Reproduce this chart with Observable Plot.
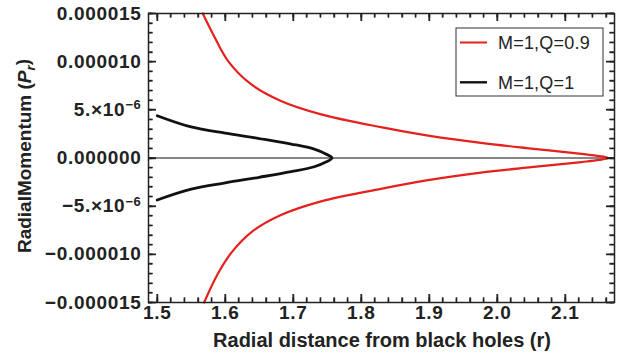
<!DOCTYPE html>
<html><head><meta charset="utf-8">
<script src="https://cdn.jsdelivr.net/npm/d3@7"></script>
<script src="https://cdn.jsdelivr.net/npm/@observablehq/plot@0.6"></script>
<style>
body{margin:0;background:#fff;}
#chart{position:relative;width:618px;height:355px;}
svg{font-family:"Liberation Sans",Arial,sans-serif;}
</style>
</head><body><div id="chart"></div>
<script>
// ---- data ----
const xTicks = [1.5, 1.6, 1.7, 1.8, 1.9, 2.0, 2.1];
const xTickLabels = ["1.5", "1.6", "1.7", "1.8", "1.9", "2.0", "2.1"];
const yTicks = [-1.5e-5, -1e-5, -5e-6, 0, 5e-6, 1e-5, 1.5e-5];
const yTickLabels = ["\u22120.000015", "\u22120.000010", "\u22125.\u00d710^\u22126", "0.000000", "5.\u00d710^\u22126", "0.000010", "0.000015"];
const seriesNames = ["M=1,Q=0.9", "M=1,Q=1"];
const seriesColors = ["#e4211c", "#111111"];
const xLabel = "Radial distance from black holes (r)";
const yLabel = "RadialMomentum";

// M=1, Q=0.9 (red): upper branch, left to tip
const redUpperR = [1.567, 1.582, 1.604, 1.638, 1.682, 1.741, 1.829, 1.903, 1.976, 2.050, 2.124, 2.150, 2.163];
const redUpperP = [15.0e-6, 12.88e-6, 10.09e-6, 7.66e-6, 5.92e-6, 4.53e-6, 3.20e-6, 2.27e-6, 1.57e-6, 0.98e-6, 0.42e-6, 0.20e-6, 0];
// lower branch, left to tip
const redLowerR = [1.569, 1.589, 1.610, 1.640, 1.682, 1.741, 1.829, 1.903, 1.976, 2.050, 2.124, 2.150, 2.163];
const redLowerP = [-15.0e-6, -12.04e-6, -9.75e-6, -7.62e-6, -5.92e-6, -4.50e-6, -3.20e-6, -2.25e-6, -1.52e-6, -0.95e-6, -0.42e-6, -0.20e-6, 0];

// M=1, Q=1 (black)
const blackUpperR = [1.500, 1.550, 1.600, 1.650, 1.697, 1.731, 1.748, 1.757];
const blackUpperP = [4.39e-6, 3.22e-6, 2.58e-6, 2.02e-6, 1.45e-6, 0.93e-6, 0.42e-6, 0];
const blackLowerR = [1.500, 1.550, 1.600, 1.650, 1.697, 1.731, 1.748, 1.757];
const blackLowerP = [-4.36e-6, -3.24e-6, -2.58e-6, -2.0e-6, -1.42e-6, -0.91e-6, -0.42e-6, 0];

// ---- build tables ----
function branchTable(uR, uP, lR, lP) {
  const up = uR.map((r, i) => ({r, p: uP[i]}));
  const lo = lR.map((r, i) => ({r, p: lP[i]})).reverse().slice(1);
  return up.concat(lo);
}
const redData = branchTable(redUpperR, redUpperP, redLowerR, redLowerP);
const blackData = branchTable(blackUpperR, blackUpperP, blackLowerR, blackLowerP);

const xMinor = d3.range(0, 34).map(i => +(1.5 + i * 0.02).toFixed(2));
const yMinor = d3.range(-15, 16).map(i => i * 1e-6);

const W = 618, H = 355, ML = 148, MR = 4, MT = 13, MB = 53;
const FW = W - ML - MR, FH = H - MT - MB;
const MAJ = 8, MIN = 4.5;

const svg = Plot.plot({
  width: W, height: H,
  marginLeft: ML, marginRight: MR, marginTop: MT, marginBottom: MB,
  x: {domain: [1.4872, 2.1725], axis: null},
  y: {domain: [-1.5e-5, 1.5e-5], axis: null},
  marks: [
    Plot.ruleY([0], {stroke: "#111", strokeWidth: 1}),
    Plot.line(redData, {x: "r", y: "p", stroke: seriesColors[0], strokeWidth: 2.2, curve: "catmull-rom"}),
    Plot.line(blackData, {x: "r", y: "p", stroke: seriesColors[1], strokeWidth: 2.8, curve: "catmull-rom"}),
    Plot.axisX(xTicks, {anchor: "bottom", tickSize: 0, tickPadding: 3, label: null,
      tickFormat: d => xTickLabels[xTicks.indexOf(d)], fontSize: 19, fontWeight: "bold", fill: "#222"}),
    Plot.axisY(yTicks, {anchor: "left", tickSize: 0, tickPadding: 7, label: null,
      tickFormat: d => yTickLabels[yTicks.indexOf(d)], fontSize: 19, fontWeight: "bold", fill: "#222"}),
    Plot.frame({stroke: "#222", strokeWidth: 1.5}),
    Plot.ruleX(xTicks, {stroke: "#222", strokeWidth: 1.4, insetTop: FH - MAJ}),
    Plot.ruleX(xMinor, {stroke: "#222", strokeWidth: 1.4, insetTop: FH - MIN}),
    Plot.ruleX(xTicks, {stroke: "#222", strokeWidth: 1.4, insetBottom: FH - MAJ}),
    Plot.ruleX(xMinor, {stroke: "#222", strokeWidth: 1.4, insetBottom: FH - MIN}),
    Plot.ruleY(yTicks, {stroke: "#222", strokeWidth: 1.4, insetRight: FW - MAJ}),
    Plot.ruleY(yMinor, {stroke: "#222", strokeWidth: 1.4, insetRight: FW - MIN}),
    Plot.ruleY(yTicks, {stroke: "#222", strokeWidth: 1.4, insetLeft: FW - MAJ}),
    Plot.ruleY(yMinor, {stroke: "#222", strokeWidth: 1.4, insetLeft: FW - MIN})
  ]
});
document.getElementById("chart").appendChild(svg);

const s = d3.select(svg);
// inward frame ticks placed through Plot's own scales
const sx = svg.scale("x"), sy = svg.scale("y");
const x0 = ML, x1 = W - MR, y0 = MT, y1 = H - MB;
const tg = s.append("g").attr("stroke", "#222").attr("stroke-width", 1.4);
[[xTicks, MAJ], [xMinor, MIN]].forEach(([arr, len]) => arr.forEach(v => {
  const px = Math.round(sx.apply(v)) + 0.5;
  tg.append("line").attr("x1", px).attr("x2", px).attr("y1", y1).attr("y2", y1 - len);
  tg.append("line").attr("x1", px).attr("x2", px).attr("y1", y0).attr("y2", y0 + len);
}));
[[yTicks, MAJ], [yMinor, MIN]].forEach(([arr, len]) => arr.forEach(v => {
  const py = Math.round(sy.apply(v)) + 0.5;
  tg.append("line").attr("y1", py).attr("y2", py).attr("x1", x0).attr("x2", x0 + len);
  tg.append("line").attr("y1", py).attr("y2", py).attr("x1", x1).attr("x2", x1 - len);
}));

s.selectAll("text").style("letter-spacing", "0.7px");
// superscripts for exponent labels
s.selectAll("text").each(function() {
  const t = this.textContent;
  if (t.includes("^")) {
    const [b, e] = t.split("^");
    const el = d3.select(this);
    el.text(b);
    el.append("tspan").attr("dy", "-0.5em").attr("font-size", "0.68em").text(e);
  }
});

// axis titles
s.append("text").attr("x", 382).attr("y", 346.5).attr("text-anchor", "middle")
  .attr("font-size", 20).attr("font-weight", "bold").attr("fill", "#222").text(xLabel);
const yl = s.append("text").attr("transform", "translate(31,156) rotate(-90)").attr("text-anchor", "middle")
  .attr("font-size", 19).attr("font-weight", "bold").attr("fill", "#222");
yl.append("tspan").text(yLabel + " (");
yl.append("tspan").attr("font-style", "italic").text("P");
yl.append("tspan").attr("font-style", "italic").attr("font-size", "0.7em").attr("dy", "0.3em").text("r");
yl.append("tspan").attr("dy", "-0.3em").text(")");

// legend
const lg = s.append("g");
lg.append("rect").attr("x", 456).attr("y", 28).attr("width", 147).attr("height", 68)
  .attr("fill", "#fff").attr("stroke", "#333").attr("stroke-width", 1);
[42.5, 82.3].forEach((yy, i) => {
  lg.append("line").attr("x1", 460).attr("x2", 487).attr("y1", yy).attr("y2", yy)
    .attr("stroke", seriesColors[i]).attr("stroke-width", i ? 2.4 : 2);
  lg.append("text").attr("x", 498).attr("y", yy + 6.3).attr("text-anchor", "start")
    .attr("font-size", 18).attr("fill", "#222")
    .style("letter-spacing", "0.2px").text(seriesNames[i]);
});
</script>
</body></html>
